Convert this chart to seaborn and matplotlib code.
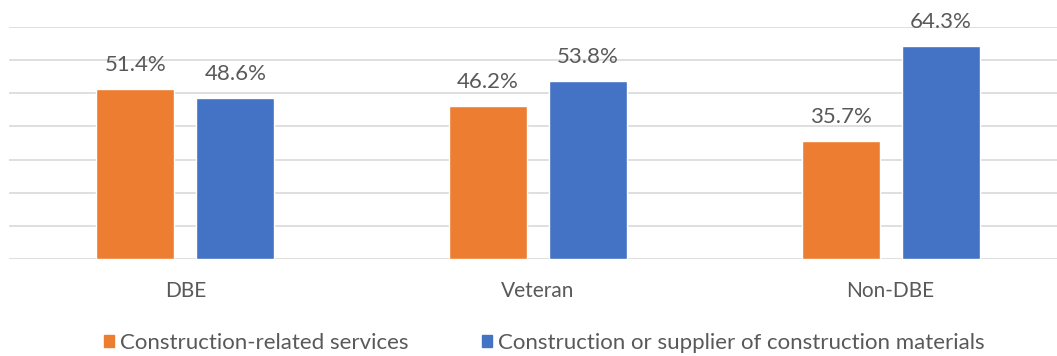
import matplotlib
matplotlib.use("Agg")
import matplotlib.pyplot as plt
import seaborn as sns
import pandas as pd

# Share of firms by business type within each certification group (%)
groups = ["DBE", "Veteran", "Non-DBE"]
series_names = ["Construction-related services",
                "Construction or supplier of construction materials"]
services = [51.4, 46.2, 35.7]
materials = [48.6, 53.8, 64.3]
colors = ["#ED7D31", "#4472C4"]

df = pd.DataFrame({
    "group": groups * 2,
    "type": [series_names[0]] * len(groups) + [series_names[1]] * len(groups),
    "share": services + materials,
})

sns.set_theme(style="white")
plt.rcParams["font.family"] = ["Lato", "DejaVu Sans"]
text_color = "#595959"

fig = plt.figure(figsize=(10.57, 3.56), dpi=100)
ax = fig.add_axes([9 / 1057, 97 / 356, 1058 / 1057, 232 / 356])

sns.barplot(data=df, x="group", y="share", hue="type",
            order=groups, hue_order=series_names, palette=colors,
            width=0.567, gap=0.22, saturation=1, legend=False, ax=ax)

for container in ax.containers:
    ax.bar_label(container, labels=[f"{v:.1f}%" for v in container.datavalues],
                 padding=10, fontsize=16, color=text_color)

ax.set_ylim(0, 70)
ax.set_xlim(-0.5, 2.5)
ax.set_yticks(range(0, 71, 10))
ax.yaxis.grid(True, color="#D9D9D9", linewidth=1.2)
ax.set_axisbelow(True)
ax.tick_params(axis="y", left=False, labelleft=False)
ax.tick_params(axis="x", bottom=False, pad=10, labelsize=15, labelcolor=text_color)
ax.set_xlabel("")
ax.set_ylabel("")
for side in ["top", "right", "left", "bottom"]:
    ax.spines[side].set_visible(False)

handles = [plt.Rectangle((0, 0), 1, 1, color=c) for c in colors]
fig.legend(handles, series_names, loc="center", bbox_to_anchor=(0.515, 0.0365),
           ncol=2, frameon=False, fontsize=16, labelcolor=text_color,
           handlelength=0.45, handleheight=0.45, handletextpad=0.27,
           columnspacing=3.33, borderaxespad=0, borderpad=0)

fig.savefig("out.png", dpi=100)
